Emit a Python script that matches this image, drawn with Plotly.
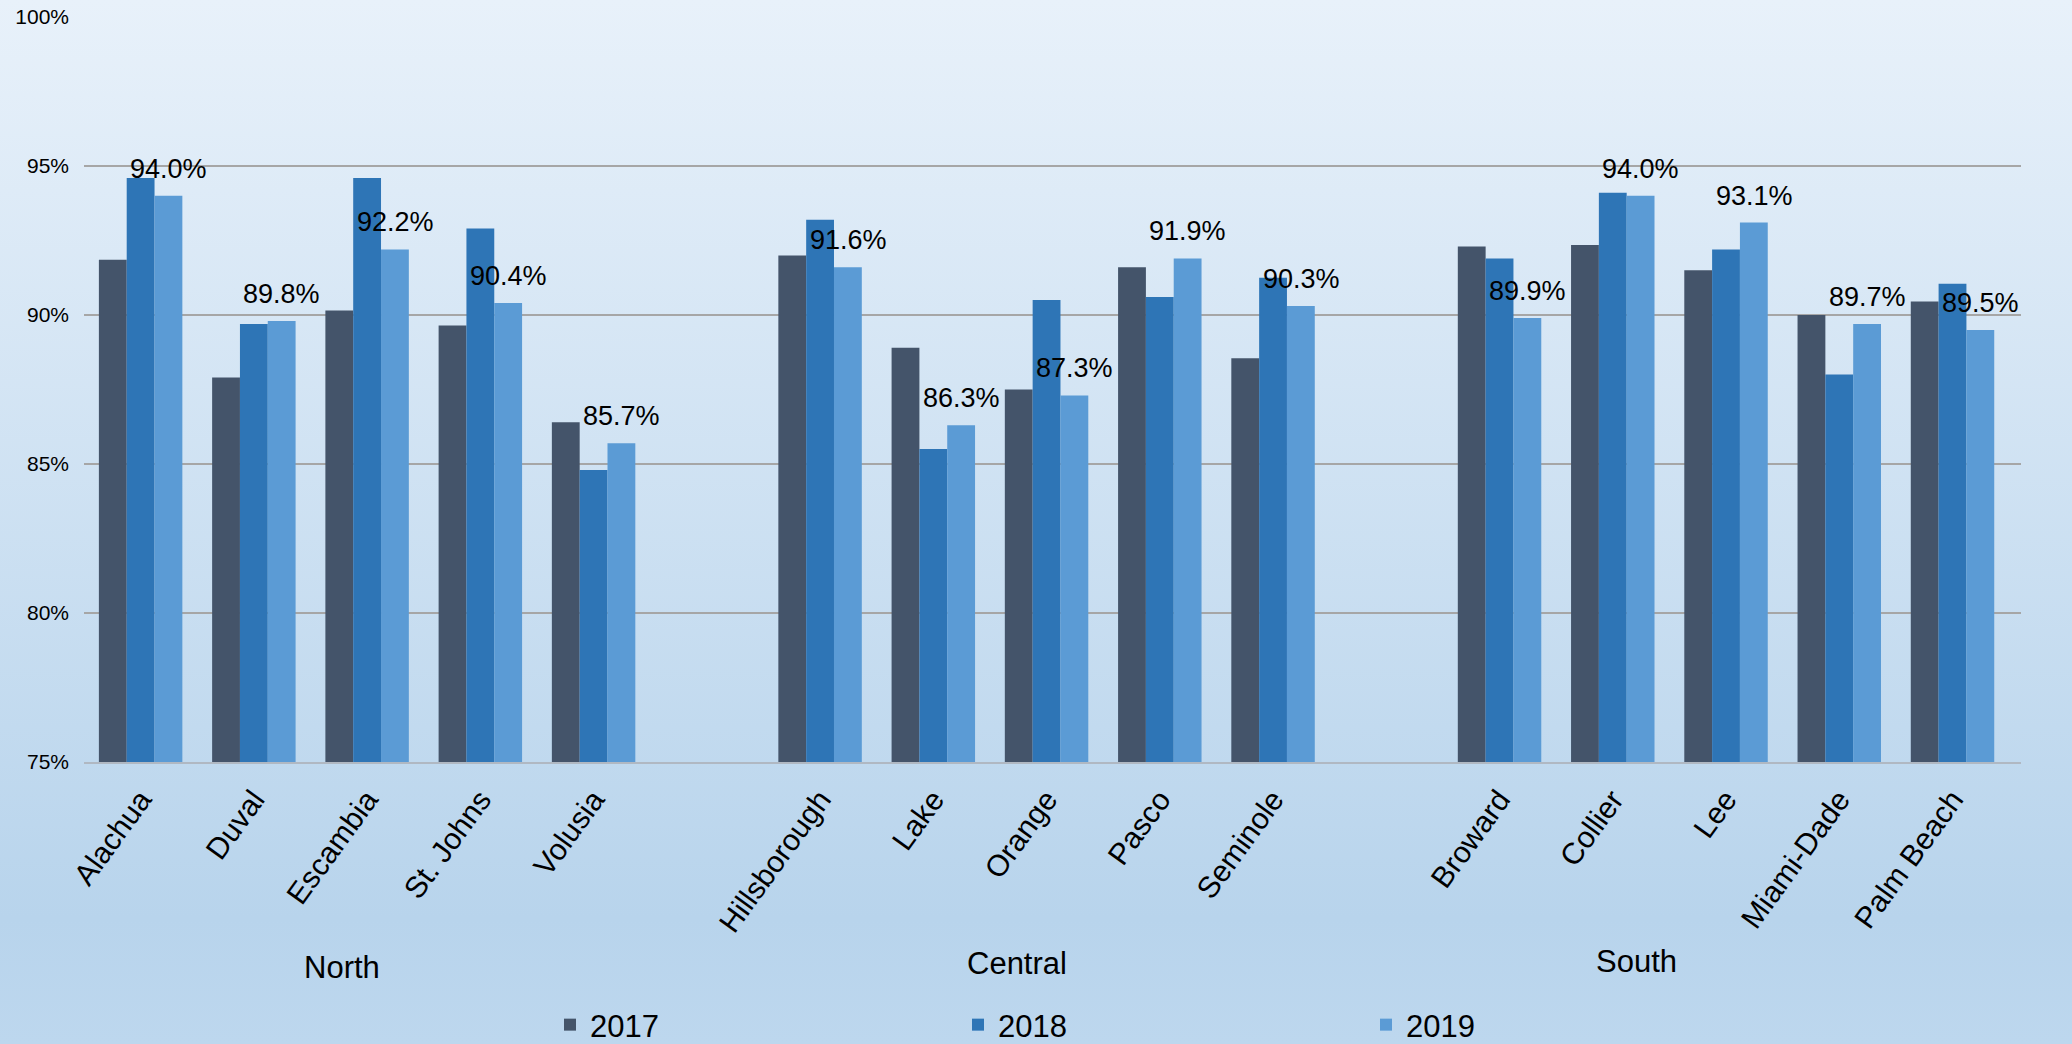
import base64
import plotly.graph_objects as go

# counties by region
north = ["Alachua", "Duval", "Escambia", "St. Johns", "Volusia"]
central = ["Hillsborough", "Lake", "Orange", "Pasco", "Seminole"]
south = ["Broward", "Collier", "Lee", "Miami-Dade", "Palm Beach"]
regions = ["North", "Central", "South"]
years = ["2017", "2018", "2019"]

# rates in percent, same order as the county lists
north_2017 = [91.85, 87.9, 90.15, 89.65, 86.4]
north_2018 = [94.6, 89.7, 94.6, 92.9, 84.8]
north_2019 = [94.0, 89.8, 92.2, 90.4, 85.7]
central_2017 = [92.0, 88.9, 87.5, 91.6, 88.55]
central_2018 = [93.2, 85.5, 90.5, 90.6, 91.25]
central_2019 = [91.6, 86.3, 87.3, 91.9, 90.3]
south_2017 = [92.3, 92.35, 91.5, 90.0, 90.45]
south_2018 = [91.9, 94.1, 92.2, 88.0, 91.05]
south_2019 = [89.9, 94.0, 93.1, 89.7, 89.5]

colors = ["#44546A", "#2E75B6", "#5B9BD5"]
font = "Arial, Liberation Sans, sans-serif"

# empty slot between regions
cats = north + [" "] + central + ["  "] + south
series = {
    "2017": north_2017 + [None] + central_2017 + [None] + south_2017,
    "2018": north_2018 + [None] + central_2018 + [None] + south_2018,
    "2019": north_2019 + [None] + central_2019 + [None] + south_2019,
}

W, H = 2072, 1044
ml, mr, mt, mb = 84, 51, 17, 282
pw, ph = W - ml - mr, H - mt - mb
bargap = 0.263
bar_w = pw / len(cats) * (1 - bargap) / 3

fig = go.Figure()
for yr, col in zip(years, colors):
    fig.add_trace(go.Bar(x=cats, y=series[yr], name=yr,
                         marker=dict(color=col, line=dict(width=0))))

# value labels above the 2019 bars
for c, v in zip(cats, series["2019"]):
    if v is None:
        continue
    fig.add_annotation(x=c, y=v, text=f"{v:.1f}%", showarrow=False, xshift=bar_w,
                       yanchor="bottom", yshift=10,
                       font=dict(size=27, color="black", family=font))

# gradient background via svg
svg = ('<svg xmlns="http://www.w3.org/2000/svg" width="100" height="100" preserveAspectRatio="none">'
       '<defs><linearGradient id="g" x1="0" y1="0" x2="0" y2="1">'
       '<stop offset="0" stop-color="#E8F1FA"/><stop offset="0.88" stop-color="#B8D4EC"/>'
       '<stop offset="1" stop-color="#BDD7EE"/></linearGradient></defs>'
       '<rect width="100" height="100" fill="url(#g)"/></svg>')
src = "data:image/svg+xml;base64," + base64.b64encode(svg.encode()).decode()
fig.add_layout_image(source=src, xref="paper", yref="paper", x=-ml / pw, y=1 + mt / ph,
                     sizex=W / pw, sizey=H / ph, sizing="stretch", layer="below",
                     xanchor="left", yanchor="top")

# region labels under the county names
region_pos = [(342, 968), (1017, 963), (1636, 961)]
for name, (px_, py_) in zip(regions, region_pos):
    fig.add_annotation(text=name, xref="paper", yref="paper", x=(px_ - ml) / pw,
                       y=-(py_ - (H - mb)) / ph, showarrow=False,
                       xanchor="center", yanchor="middle",
                       font=dict(size=31, color="black", family=font))

fig.update_layout(
    width=W, height=H,
    margin=dict(l=ml, r=mr, t=mt, b=mb, autoexpand=False),
    paper_bgcolor="#D2E4F4",
    plot_bgcolor="rgba(0,0,0,0)",
    barmode="group", bargap=bargap, bargroupgap=0,
    font=dict(family=font, color="black"),
    showlegend=True,
    legend=dict(orientation="h", xref="container", x=550 / W, xanchor="left",
                yref="container", y=(H - 1025) / H, yanchor="middle",
                entrywidth=363, entrywidthmode="pixels",
                font=dict(size=31, family=font), bgcolor="rgba(0,0,0,0)"),
)
fig.update_yaxes(range=[75, 100], dtick=5, ticksuffix="%", showgrid=True,
                 gridcolor="#A6A6A6", gridwidth=1.5, zeroline=False, automargin=False,
                 tickfont=dict(size=21, family=font), ticklabelstandoff=14)
fig.update_xaxes(type="category", categoryorder="array", categoryarray=cats,
                 tickangle=-54, tickfont=dict(size=30, family=font), ticks="",
                 showline=True, linecolor="#B0B8C2", linewidth=2, automargin=False,
                 ticklabelstandoff=6)

fig.write_html("out.html", config={"displayModeBar": False},
               post_script="document.body.style.margin='0';")
